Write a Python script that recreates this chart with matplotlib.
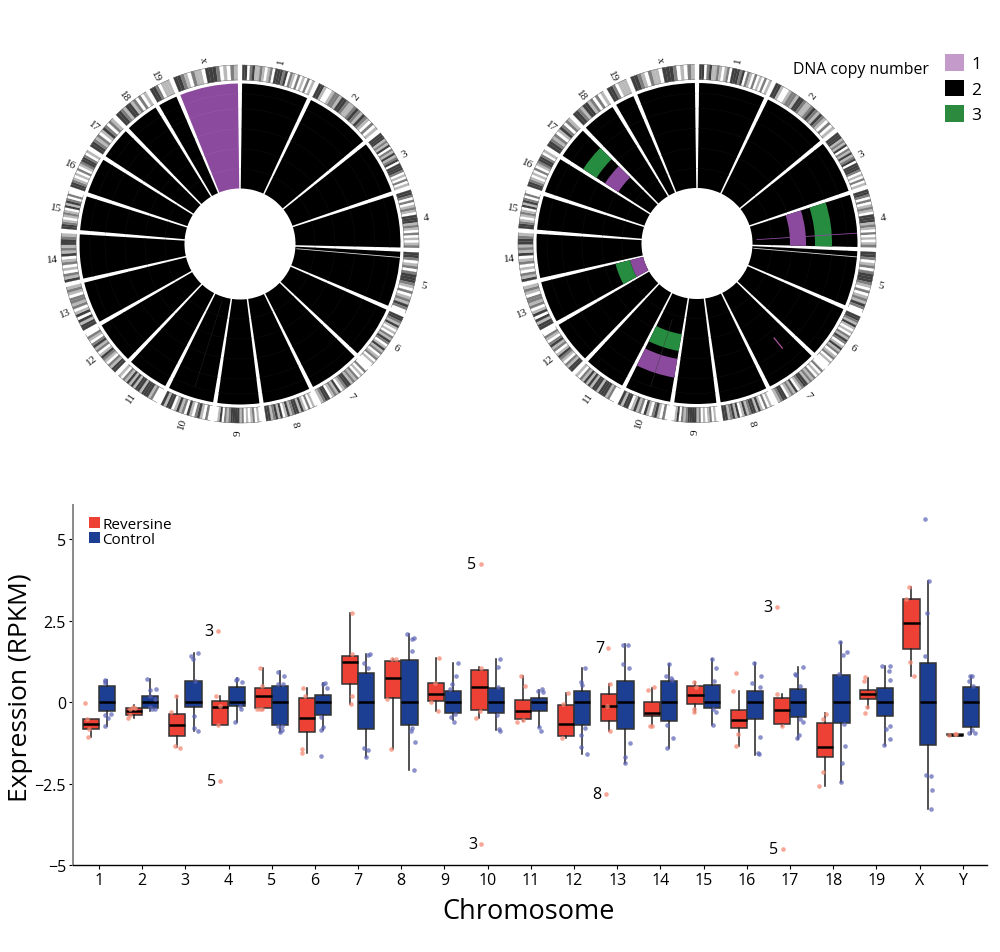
import numpy as np
import matplotlib
matplotlib.use('Agg')
import matplotlib.pyplot as plt
from matplotlib.patches import Patch

plt.rcParams['font.family'] = ['Open Sans', 'DejaVu Sans']

# ---- circos panels ----
chrom_names = ['1', '2', '3', '4', '5', '6', '7', '8', '9', '10', '11', '12', '13', '14', '15', '16', '17', '18', '19', 'x']
# sector boundaries, degrees clockwise from the top
chrom_edges = [0, 25.5, 50.9, 71.6, 92, 113.4, 133.7, 153.7, 172.3, 188.9, 207, 223.5, 240.3, 256.8, 274.2, 288, 302.4, 315.4, 329, 337.4, 360]
# ideogram bands read by eye, one digit per band (0 white .. 3 dark)
bands = [
    '33023112101203332302102010201', '3310012213321123213210201', '3331213021312303332010201', '33202012103331210201012',
    '3320120233321020121320', '332131010213201312012010', '02010212133210312103321', '0102013133213103132133',
    '010210102133332120310', '0201320130213103313', '002133313313131201', '331201231021320120',
    '3313031021220121', '31201021031213321', '3321012103132020', '3321010201233201', '332120132021',
    '332133120201', '3320111', '332102110333201021',
]
band_colors = ['#ffffff', '#b9b9b9', '#7d7d7d', '#3f3f3f']

# copy number segments on the right circle: chromosome, inner r, outer r, colour
right_segments = [
    (3, 93, 109, 'purple'), (3, 118, 135, 'green'),
    (16, 94, 110, 'purple'), (16, 120, 136, 'green'),
    (12, 55.5, 69, 'purple'), (12, 69, 84, 'green'),
    (9, 92, 109, 'green'), (9, 117, 136, 'purple'),
]
# thin lines: angle, inner r, outer r, colour, width
left_lines = [(94.8, 57, 160, '#d8d8d8', 0.6), (197.5, 60, 150, '#2a2a2a', 0.3)]
right_lines = [(94.8, 57, 160, '#d8d8d8', 0.6), (86.3, 60, 160, '#8c4a9e', 0.6), (140.8, 122, 135, '#a8559f', 0.9), (198, 80, 150, '#3a3a3a', 0.3)]
grid_radii = [75, 95, 115, 135, 150]
seg_colors = {'purple': '#8c4a9e', 'green': '#268c3f'}
gap = 1.5


def circos(center_x, center_y, segments, lines, purple_chrom=None):
    size = 200
    ax = fig.add_axes([(center_x - size) / 1000, 1 - (center_y + size) / 953, 2 * size / 1000, 2 * size / 953], projection='polar')
    ax.set_theta_zero_location('N')
    ax.set_theta_direction(-1)
    ax.set_ylim(0, size)
    ax.axis('off')
    for i, name in enumerate(chrom_names):
        start = np.deg2rad(chrom_edges[i] + gap / 2)
        end = np.deg2rad(chrom_edges[i + 1] - gap / 2)
        color = seg_colors['purple'] if i == purple_chrom else 'black'
        ax.bar((start + end) / 2, 160.5 - 55.5, width=end - start, bottom=55.5, color=color, lw=0)
        # faint circos grid
        th = np.linspace(start, end, 30)
        for r in grid_radii:
            ax.plot(th, np.full(30, r), color='#0e0e0e' if i != purple_chrom else '#9558a6', lw=0.4)
        # ideogram
        codes = bands[i]
        w = (end - start) / len(codes)
        for j, c in enumerate(codes):
            ax.bar(start + (j + 0.5) * w, 15, width=w, bottom=164, color=band_colors[int(c)],
                   edgecolor=band_colors[int(c)], lw=0.15)
        ax.plot(th, np.full(30, 164), color='#555555', lw=0.3)
        ax.plot(th, np.full(30, 179), color='#555555', lw=0.3)
        # label, turned so the left half stays readable
        mid = (chrom_edges[i] + chrom_edges[i + 1]) / 2
        rot = 90 - mid if mid < 180 else 270 - mid
        ax.text(np.deg2rad(mid), 188, name, rotation=rot, rotation_mode='anchor', ha='center', va='center',
                fontsize=8, family='Liberation Serif', color='#111111')
    for ch, r0, r1, color in segments:
        start = np.deg2rad(chrom_edges[ch] + gap / 2)
        end = np.deg2rad(chrom_edges[ch + 1] - gap / 2)
        ax.bar((start + end) / 2, r1 - r0, width=end - start, bottom=r0, color=seg_colors[color], lw=0, zorder=3)
    for ang, r0, r1, color, lw in lines:
        ax.plot([np.deg2rad(ang)] * 2, [r0, r1], color=color, lw=lw, zorder=4)
    return ax


# ---- expression boxes ----
chrom_labels = ['1', '2', '3', '4', '5', '6', '7', '8', '9', '10', '11', '12', '13', '14', '15', '16', '17', '18', '19', 'X', 'Y']

rev_q3 = [-.51, -.18, -.36, .03, .43, .14, 1.43, 1.26, .58, .99, .07, -.08, .25, 0, .48, -.25, .14, -.63, .38, 3.16, -.98]
rev_med = [-.685, -.26, -.70, -.14, .19, -.5, 1.24, .74, .24, .46, -.27, -.67, -.13, -.33, .22, -.55, -.25, -1.38, .24, 2.43, -1.0]
rev_q1 = [-.84, -.41, -1.03, -.69, -.17, -.92, .55, .14, .02, -.24, -.51, -1.04, -.57, -.44, -.07, -.80, -.67, -1.70, .08, 1.63, -1.02]
rev_hi = [-.51, -.1, .18, .18, 1.05, .44, 2.74, 1.33, 1.35, 1.07, .80, .28, .56, .44, .61, .34, .24, -.33, .74, 3.53, -.97]
rev_lo = [-1.06, -.49, -1.38, -.69, -.22, -1.56, -.07, -1.45, -.27, -.48, -.59, -1.09, -.89, -.72, -.31, -1.35, -.74, -2.59, -.17, .79, -1.02]

ctl_q3 = [.49, .18, .64, .46, .48, .22, .89, 1.30, .33, .42, .14, .35, .64, .66, .52, .35, .41, .82, .44, 1.21, .45]
ctl_med = [0] * 21
ctl_q1 = [-.28, -.17, -.16, -.12, -.69, -.41, -.84, -.70, -.34, -.33, -.27, -.69, -.84, -.59, -.17, -.53, -.47, -.64, -.43, -1.32, -.77]
ctl_hi = [.69, .70, 1.51, .75, .94, .59, 1.48, 2.08, 1.21, 1.33, .38, 1.06, 1.77, 1.16, 1.33, 1.2, 1.07, 1.86, 1.12, 3.73, .79]
ctl_lo = [-.72, -.26, -.89, -.61, -.92, -.87, -1.69, -2.07, -.54, -.87, -.77, -1.6, -1.87, -1.4, -.70, -1.62, -1.12, -2.46, -1.31, -3.27, -.97]

# (jitter from tick, value) for the single samples
rev_points = [
    [(-.32, -.03), (-.27, -.51), (-.22, -.84), (-.25, -1.06)],
    [(-.22, -.15), (-.28, -.22), (-.17, -.18), (-.32, -.49), (-.27, -.41)],
    [(-.22, .18), (-.33, -.29), (-.23, -1.36), (-.12, -1.4)],
    [(-.30, .18), (-.25, 2.19), (-.19, -2.41), (-.2, -.12), (-.24, -.69)],
    [(-.27, 1.05), (-.23, .49), (-.27, -.22), (-.23, -.2), (-.33, -.2)],
    [(-.27, .44), (-.23, .18), (-.31, -1.43), (-.29, -1.56)],
    [(-.15, 2.74), (-.15, 1.48), (-.15, .18), (-.17, -.05)],
    [(-.22, 1.33), (-.13, 1.33), (-.32, .08), (-.24, -1.45)],
    [(-.13, 1.36), (-.32, 0), (-.15, -.27), (-.21, .59)],
    [(-.15, 1.06), (-.27, -.48), (-.18, -.26), (-.16, 4.23), (-.15, -4.36)],
    [(-.23, .80), (-.14, .48), (-.32, -.61), (-.18, -.54)],
    [(-.14, .28), (-.25, -.05), (-.27, -1.09)],
    [(-.17, .55), (-.21, 1.67), (-.26, -2.83), (-.17, -.89), (-.23, -.13)],
    [(-.29, .38), (-.15, .45), (-.24, -.72), (-.2, -.72)],
    [(-.22, .61), (-.23, -.2), (-.23, -.29), (-.17, .46)],
    [(-.24, .90), (-.32, .35), (-.21, -.99), (-.24, -1.36)],
    [(-.31, 2.93), (-.17, -4.5), (-.31, .24), (-.19, -.74)],
    [(-.16, -.35), (-.24, -.51), (-.24, -2.16), (-.32, -2.59)],
    [(-.27, .77), (-.29, .64), (-.21, -.16), (-.26, -.33)],
    [(-.25, 3.53), (-.31, 3.18), (-.23, 1.22), (-.13, .79)],
    [(-.31, -1.0), (-.19, -.97), (-.15, -.99)],
]
ctl_points = [
    [(.14, .66), (.14, .69), (.14, .6), (.13, -.72), (.14, -.41), (.22, -.49), (.28, -.36)],
    [(.12, .70), (.18, .36), (.32, .39), (.18, .2), (.30, .1), (.24, -.22), (.3, -.2), (.18, -.15)],
    [(.13, 1.43), (.30, 1.51), (.17, 1.31), (.22, .66), (.21, -.43), (.21, -.8), (.30, -.89)],
    [(.19, .72), (.17, .67), (.32, .61), (.15, -.61), (.3, -.22), (.26, -.12)],
    [(.15, .92), (.29, .79), (.15, .56), (.27, .56), (.19, -.92), (.25, -.72), (.15, -.72), (.23, -.87)],
    [(.23, .58), (.19, .56), (.29, .44), (.13, -1.66), (.15, -.87), (.18, -.77), (.15, -.46)],
    [(.27, 1.48), (.23, 1.45), (.13, 1.2), (.23, 1.06), (.14, -1.41), (.24, -1.48), (.19, -1.69)],
    [(.14, 2.08), (.30, 1.97), (.25, 1.94), (.25, 1.58), (.25, -.79), (.23, -.90), (.32, -1.23), (.29, -2.07)],
    [(.31, 1.21), (.26, .79), (.18, .56), (.12, .41), (.14, -.46), (.22, -.61), (.24, -.36)],
    [(.29, 1.33), (.23, 1.09), (.25, .46), (.21, -.41), (.26, -.82), (.29, -.89)],
    [(.25, .41), (.17, .33), (.27, .31), (.19, -.77), (.23, -.89)],
    [(.25, 1.06), (.15, .63), (.18, .51), (.25, -.78), (.15, -1.0), (.15, -1.38), (.31, -1.6)],
    [(.14, 1.76), (.24, 1.76), (.14, 1.16), (.28, 1.04), (.29, -1.25), (.19, -1.67), (.19, -1.87)],
    [(.19, 1.16), (.14, .79), (.24, .74), (.26, .67), (.16, -.69), (.29, -1.10), (.15, -1.40)],
    [(.19, 1.33), (.28, 1.06), (.25, .66), (.22, -.2), (.29, -.29), (.22, -.70)],
    [(.16, 1.19), (.32, .81), (.13, .58), (.30, .45), (.30, -1.07), (.26, -1.55), (.28, -1.6)],
    [(.30, 1.07), (.12, .87), (.13, .82), (.24, .49), (.24, -.53), (.29, -.61), (.21, -1.02), (.17, -1.1)],
    [(.16, 1.86), (.22, 1.46), (.31, 1.55), (.13, .85), (.26, -.68), (.27, -1.35), (.20, -1.86), (.19, -2.46)],
    [(.14, 1.12), (.31, 1.10), (.30, .95), (.31, .69), (.23, -.82), (.32, -.72), (.31, -1.12), (.17, -1.31)],
    [(.13, 5.62), (.22, 3.72), (.17, 2.75), (.13, 1.42), (.15, -2.23), (.26, -2.27), (.29, -2.70), (.27, -3.27)],
    [(.14, .64), (.17, .79), (.21, .79), (.23, .49), (.14, -.94), (.22, -.87), (.28, -.95)],
]
# counts written beside the far away samples: chromosome position, jitter, value, text
outlier_labels = [
    (4, -.25, 2.19, '3'), (4, -.19, -2.41, '5'), (10, -.16, 4.23, '5'), (10, -.15, -4.36, '3'),
    (13, -.21, 1.67, '7'), (13, -.26, -2.83, '8'), (17, -.31, 2.93, '3'), (17, -.17, -4.5, '5'),
]

red = '#ee4136'
blue = '#1c3f94'

fig = plt.figure(figsize=(10, 9.53), dpi=100)

circos(240, 245, [], left_lines, purple_chrom=19)
circos(697, 244.5, right_segments, right_lines)

ax = fig.add_axes([73 / 1000, 1 - 866 / 953, (987 - 73) / 1000, (866 - 506) / 953])
x = np.arange(1, 22)


def draw_boxes(x_pos, q1, med, q3, lo, hi, color):
    stats = [dict(med=m, q1=a, q3=b, whislo=l, whishi=h, fliers=[]) for m, a, b, l, h in zip(med, q1, q3, lo, hi)]
    ax.bxp(stats, positions=x_pos, widths=0.375, patch_artist=True, showcaps=False, showfliers=False, manage_ticks=False,
           boxprops=dict(facecolor=color, edgecolor='#333333', lw=1.1),
           medianprops=dict(color='black', lw=1.8, solid_capstyle='butt'),
           whiskerprops=dict(color='#222222', lw=1.1), zorder=2)


draw_boxes(x - 0.19, rev_q1, rev_med, rev_q3, rev_lo, rev_hi, red)
draw_boxes(x + 0.19, ctl_q1, ctl_med, ctl_q3, ctl_lo, ctl_hi, blue)

for pos, pts in zip(x, rev_points):
    ax.scatter([pos + p[0] for p in pts], [p[1] for p in pts], s=11, color='#f58a75', alpha=0.75, lw=0, zorder=3)
for pos, pts in zip(x, ctl_points):
    ax.scatter([pos + p[0] for p in pts], [p[1] for p in pts], s=11, color='#5a62b4', alpha=0.7, lw=0, zorder=3)

for pos, jit, val, txt in outlier_labels:
    ax.annotate(txt, (pos + jit, val), xytext=(-3, 0), textcoords='offset points', ha='right', va='center', fontsize=11.5)

ax.set_xlim(0.4, 21.56)
ax.set_ylim(-4.99, 6.05)
ax.set_xticks(x)
ax.set_xticklabels(chrom_labels)
ax.set_yticks([-5, -2.5, 0, 2.5, 5])
ax.set_yticklabels(['\u22125', '\u22122.5', '0', '2.5', '5'])
ax.tick_params(axis='both', labelsize=11.5, length=3, width=0.8, pad=2)
ax.spines['top'].set_visible(False)
ax.spines['right'].set_visible(False)
ax.spines['left'].set_color('#8a8a8a')
ax.spines['left'].set_linewidth(1.4)
ax.spines['bottom'].set_linewidth(1.0)
ax.set_xlabel('Chromosome', fontsize=19.5)
ax.set_ylabel('Expression (RPKM)', fontsize=19)
ax.xaxis.set_label_coords(0.498, -0.088)
ax.yaxis.set_label_coords(-0.044, 0.494)

ax.legend(handles=[Patch(facecolor=red, label='Reversine'), Patch(facecolor=blue, label='Control')],
          loc='upper left', bbox_to_anchor=(0.0175, 0.968), frameon=False, fontsize=11,
          handlelength=0.72, handleheight=0.72, handletextpad=0.15, labelspacing=0.05, borderpad=0, borderaxespad=0)

# copy number legend
fig.text(793 / 1000, 1 - 70 / 953, 'DNA copy number', fontsize=11.4, va='center', ha='left')
fig.legend(handles=[Patch(facecolor='#c49acb', label='1'), Patch(facecolor='black', label='2'), Patch(facecolor='#2b8a3e', label='3')],
           loc='upper left', bbox_to_anchor=(945 / 1000, 1 - 55 / 953), frameon=False, fontsize=12.5,
           handlelength=1.1, handleheight=1.1, handletextpad=0.4, labelspacing=0.42, borderpad=0, borderaxespad=0)

fig.savefig('out.png', dpi=100)
